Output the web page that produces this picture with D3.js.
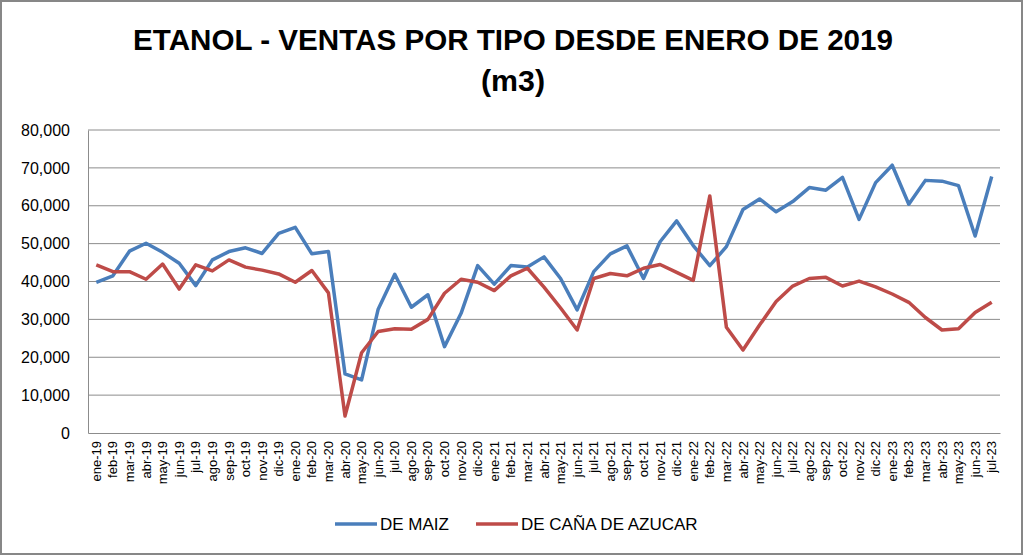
<!DOCTYPE html>
<html>
<head>
<meta charset="utf-8">
<script src="https://cdn.jsdelivr.net/npm/d3@7"></script>
<style>
  body { margin: 0; background: #fff; }
  svg { display: block; }
</style>
</head>
<body>
<svg width="1023" height="555"></svg>
<script>
const months = ["ene", "feb", "mar", "abr", "may", "jun", "jul", "ago", "sep", "oct", "nov", "dic"];
const labels = [];
for (let y = 19; y <= 23; y++) {
  months.forEach((m, i) => {
    if (y < 23 || i < 7) labels.push(m + "-" + y);
  });
}

const maiz = [
  39800, 41500, 48000, 50100, 47700, 44800, 38900, 45700, 47900, 48900, 47400, 52700,
  54300, 47300, 47900, 15600, 14000, 32700, 41900, 33200, 36500, 22800, 31600, 44200,
  39300, 44200, 43800, 46500, 40800, 32500, 42600, 47300, 49400, 40800, 50500, 56000,
  49500, 44200, 49200, 59000, 61800, 58400, 61100, 64800, 64100, 67500, 56400, 66100,
  70700, 60400, 66700, 66500, 65300, 52000, 67700
];
const cana = [
  44400, 42600, 42600, 40600, 44600, 38000, 44400, 42800, 45700, 43800, 43000, 42000,
  39800, 42900, 37000, 4500, 21200, 26800, 27500, 27400, 30000, 36900, 40600, 39800,
  37600, 41500, 43500, 38500, 33000, 27200, 40800, 42100, 41500, 43500, 44500, 42400,
  40300, 62600, 27900, 21900, 28500, 34700, 38800, 40800, 41100, 38800, 40100, 38600,
  36700, 34500, 30500, 27200, 27500, 31800, 34500
];
const yTicks = [0, 10000, 20000, 30000, 40000, 50000, 60000, 70000, 80000];
const series = [
  { name: "DE MAIZ", values: maiz, color: "#4a7ebb" },
  { name: "DE CAÑA DE AZUCAR", values: cana, color: "#be4b48" }
];

const svg = d3.select("svg");
const W = 1023, H = 555;
const m = { left: 88, right: 1000, top: 130, bottom: 433 };
const font = "'Liberation Sans', Arial, sans-serif";

svg.append("rect")
  .attr("x", 1).attr("y", 1).attr("width", W - 2).attr("height", H - 2)
  .attr("fill", "#fff").attr("stroke", "#878787").attr("stroke-width", 2);

// title
const title = svg.append("text")
  .attr("text-anchor", "middle")
  .attr("font-family", font)
  .attr("font-weight", "bold").attr("font-size", 30).attr("fill", "#000");
title.append("tspan").attr("x", 513).attr("y", 50)
  .attr("textLength", 760).attr("lengthAdjust", "spacingAndGlyphs")
  .text("ETANOL - VENTAS POR TIPO DESDE ENERO DE 2019");
title.append("tspan").attr("x", 513).attr("y", 91)
  .attr("textLength", 64).attr("lengthAdjust", "spacingAndGlyphs")
  .text("(m3)");

const x = d3.scaleBand().domain(labels).range([m.left, m.right]);
const y = d3.scaleLinear().domain([0, 80000]).range([m.bottom, m.top]);

// gridlines
svg.append("g")
  .selectAll("line")
  .data(yTicks.slice(1))
  .join("line")
  .attr("x1", m.left).attr("x2", m.right)
  .attr("y1", d => y(d)).attr("y2", d => y(d))
  .attr("stroke", "#8c8c8c").attr("stroke-width", 1);

// y axis
const yAxis = svg.append("g")
  .attr("transform", `translate(${m.left},0)`)
  .call(d3.axisLeft(y).tickValues(yTicks).tickFormat(d3.format(",")).tickSize(0).tickPadding(18));
yAxis.select(".domain").attr("stroke", "#8c8c8c");
yAxis.selectAll("text")
  .attr("font-family", font)
  .attr("font-size", 16).attr("fill", "#000");

// x axis
const xAxis = svg.append("g")
  .attr("transform", `translate(0,${m.bottom})`)
  .call(d3.axisBottom(x).tickSize(0).tickPadding(0));
xAxis.select(".domain").attr("stroke", "#8c8c8c");
xAxis.selectAll("text")
  .attr("font-family", font)
  .attr("font-size", 13).attr("fill", "#000")
  .attr("transform", "rotate(-90)")
  .attr("text-anchor", "end")
  .attr("x", -8).attr("y", 0).attr("dy", "0.35em");

// lines
const line = d3.line()
  .x((d, i) => x(labels[i]) + x.bandwidth() / 2)
  .y(d => y(d));

svg.append("g")
  .selectAll("path")
  .data(series)
  .join("path")
  .attr("d", d => line(d.values))
  .attr("fill", "none")
  .attr("stroke", d => d.color)
  .attr("stroke-width", 3.5)
  .attr("stroke-linejoin", "round");

// legend
const legend = svg.append("g");
const legendX = [335, 476];
series.forEach((s, i) => {
  const g = legend.append("g").attr("transform", `translate(${legendX[i]},524)`);
  g.append("line").attr("x1", 0).attr("x2", 42).attr("y1", 0).attr("y2", 0)
    .attr("stroke", s.color).attr("stroke-width", 3.5);
  g.append("text").attr("x", 45).attr("y", 0).attr("dy", "0.36em")
    .attr("font-family", font)
    .attr("font-size", 17).attr("fill", "#000")
    .text(s.name);
});
</script>
</body>
</html>
